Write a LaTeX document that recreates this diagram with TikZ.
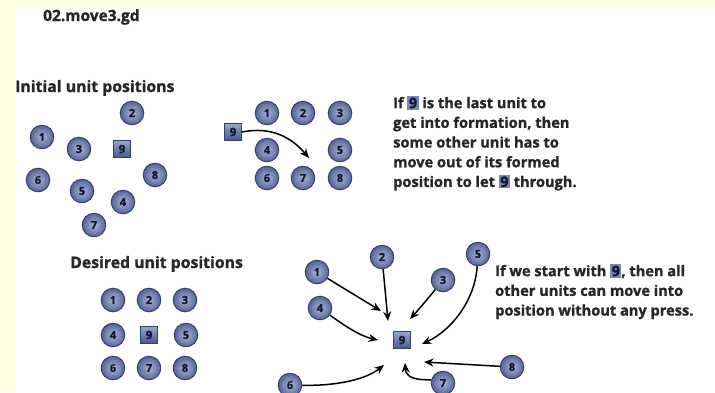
\documentclass[tikz,border=0pt]{standalone}
\usepackage{fontspec}
\setmainfont{Open Sans}[BoldFeatures={FakeBold=1.2}]
\usetikzlibrary{arrows.meta}
\definecolor{bgyellow}{RGB}{255,255,226}
\definecolor{unitin}{RGB}{170,182,216}
\definecolor{unitout}{RGB}{84,100,150}
\definecolor{unitedge}{RGB}{52,64,110}
\definecolor{unittext}{RGB}{18,22,50}
\definecolor{sqtop}{RGB}{150,166,206}
\definecolor{sqbot}{RGB}{70,88,142}
\definecolor{sqfill}{RGB}{118,136,186}
\newcommand{\ninebox}{{\setlength{\fboxsep}{1.4pt}\colorbox{sqfill}{\textcolor{unittext}{9}}}}
\tikzset{
  unit/.style={circle, minimum size=23.5pt, inner sep=0pt, draw=unitedge, line width=1pt,
    inner color=unitin, outer color=unitout, text=unittext,
    font=\bfseries\fontsize{11}{11}\selectfont},
  squnit/.style={rectangle, minimum size=17pt, inner sep=0pt, draw=unitedge, line width=0.5pt,
    top color=sqtop, bottom color=sqbot, text=unittext,
    font=\bfseries\fontsize{11.5}{11.5}\selectfont},
  mv/.style={-{Stealth[length=9.5pt,width=8pt]}, line width=1.5pt, black},
  heading/.style={font=\bfseries\fontsize{15.8}{17}\selectfont, anchor=base west, inner sep=0pt, text=black!85},
  para/.style={font=\bfseries\fontsize{14.6}{19.7}\selectfont, align=left, anchor=north west, inner sep=0pt, text=black!85}
}
\begin{document}
\begin{tikzpicture}[x=1pt,y=-1pt]
\useasboundingbox (0,0) rectangle (715,392);
\fill[bgyellow] (0,0) rectangle (715,392);
\fill[white] (15,7) rectangle (715,392);

\node[heading, font=\bfseries\fontsize{15.5}{17}\selectfont] (title) at (43,21) {02.move3.gd};
\node[heading] (hinit) at (15,92) {Initial unit positions};
\node[heading] (hdes) at (70,268) {Desired unit positions};

% initial scattered
\node[unit] (a2) at (132,113) {2};
\node[unit] (a1) at (42,137) {1};
\node[unit] (a3) at (79,149) {3};
\node[squnit] (a9) at (122,149) {9};
\node[unit] (a6) at (38,180) {6};
\node[unit] (a8) at (155,175) {8};
\node[unit] (a5) at (82,191) {5};
\node[unit] (a4) at (123,202) {4};
\node[unit] (a7) at (94,225) {7};

% top middle formation
\node[unit] (t1) at (267,113) {1};
\node[unit] (t2) at (303,113) {2};
\node[unit] (t3) at (340,113) {3};
\node[unit] (t4) at (267,150) {4};
\node[unit] (t5) at (340,150) {5};
\node[unit] (t6) at (267,178) {6};
\node[unit] (t7) at (303,178) {7};
\node[unit] (t8) at (340,178) {8};
\node[squnit] (t9) at (233,132) {9};
\coordinate (tend) at (309,158);
\draw[mv] (t9.east) .. controls (272,126) and (292,138) .. (tend);

\node[para] (ptop) at (393,96) {If \ninebox\ is the last unit to\\get into formation, then\\some other unit has to\\move out of its formed\\position to let \ninebox\ through.};

% desired
\node[unit] (d1) at (113,300) {1};
\node[unit] (d2) at (149,300) {2};
\node[unit] (d3) at (185,300) {3};
\node[unit] (d4) at (113,335) {4};
\node[squnit] (d9) at (149,335) {9};
\node[unit] (d5) at (186,335) {5};
\node[unit] (d6) at (113,368) {6};
\node[unit] (d7) at (149,368) {7};
\node[unit] (d8) at (185,368) {8};

% bottom converge
\node[squnit] (b9) at (402,340) {9};
\node[unit] (b1) at (317,272) {1};
\node[unit] (b2) at (382,257) {2};
\node[unit] (b3) at (443,280) {3};
\node[unit] (b5) at (478,254) {5};
\node[unit] (b4) at (320,308) {4};
\node[unit] (b8) at (512,367) {8};
\node[unit] (b6) at (290,385) {6};
\node[unit] (b7) at (443,383) {7};
\coordinate (e1) at (381,311);
\coordinate (e2) at (388,321);
\coordinate (e3) at (410,319);
\coordinate (e5) at (422,344);
\coordinate (e4) at (378,340);
\coordinate (e8) at (424,362);
\coordinate (e6) at (384,365);
\coordinate (e7) at (405,363);
\draw[mv] (b1) -- (e1);
\draw[mv] (b2) -- (e2);
\draw[mv] (b3) .. controls (430,296) and (420,308) .. (e3);
\draw[mv] (b5) .. controls (475,300) and (452,330) .. (e5);
\draw[mv] (b4) .. controls (345,326) and (360,336) .. (e4);
\draw[mv] (b8) -- (e8);
\draw[mv] (b6) .. controls (335,386) and (365,380) .. (e6);
\draw[mv] (b7.165) .. controls (416,380) and (406,378) .. (e7);

\node[para] (pbot) at (495,264) {If we start with \ninebox, then all\\other units can move into\\position without any press.};
\end{tikzpicture}
\end{document}
